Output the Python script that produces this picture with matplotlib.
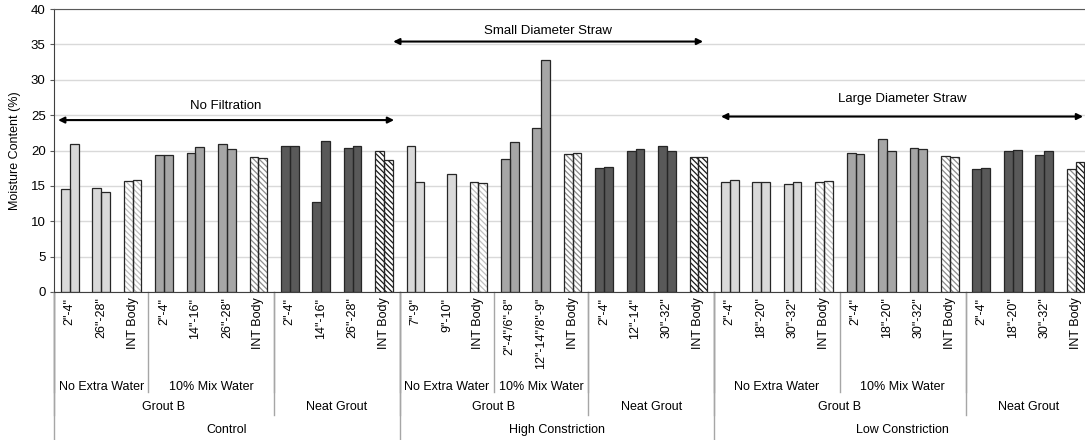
import numpy as np
import matplotlib.pyplot as plt

plt.rcParams['font.family'] = ['Liberation Sans', 'DejaVu Sans']
plt.rcParams['hatch.linewidth'] = 0.9

# sample location (one column per location, two readings each)
categories = ['2"-4"', '26"-28"', 'INT Body', '2"-4"', '14"-16"', '26"-28"', 'INT Body',
              '2"-4"', '14"-16"', '26"-28"', 'INT Body',
              '7"-9"', '9"-10"', 'INT Body', '2"-4"/6"-8"', '12"-14"/8"-9"', 'INT Body',
              '2"-4"', '12"-14"', '30"-32"', 'INT Body',
              '2"-4"', '18"-20"', '30"-32"', 'INT Body', '2"-4"', '18"-20"', '30"-32"', 'INT Body',
              '2"-4"', '18"-20"', '30"-32"', 'INT Body']
first_reading = [14.5, 14.7, 15.7, 19.3, 19.7, 20.85, 19.1, 20.7, 12.7, 20.4, 19.9,
                 20.7, np.nan, 15.5, 18.8, 23.2, 19.5, 17.5, 19.9, 20.7, 19.1,
                 15.6, 15.5, 15.3, 15.6, 19.6, 21.6, 20.4, 19.2, 17.45, 19.9, 19.4, 17.45]
second_reading = [20.9, 14.2, 15.9, 19.3, 20.5, 20.2, 18.9, 20.7, 21.4, 20.7, 18.7,
                  15.6, 16.7, 15.4, 21.2, 32.8, 19.7, 17.6, 20.2, 20.0, 19.05,
                  15.8, 15.6, 15.6, 15.7, 19.5, 19.9, 20.2, 19.15, 17.5, 20.1, 20.0, 18.4]

# (label, number of columns) for each level of the category axis
water_groups = [('No Extra Water', 3), ('10% Mix Water', 4), ('', 4),
                ('No Extra Water', 3), ('10% Mix Water', 3), ('', 4),
                ('No Extra Water', 4), ('10% Mix Water', 4), ('', 4)]
grout_groups = [('Grout B', 7), ('Neat Grout', 4), ('Grout B', 6), ('Neat Grout', 4),
                ('Grout B', 8), ('Neat Grout', 4)]
constriction_groups = [('Control', 11), ('High Constriction', 10), ('Low Constriction', 12)]

x = np.arange(len(categories))
w = 0.28

fill = {'No Extra Water': '#d9d9d9', '10% Mix Water': '#a6a6a6', '': '#595959'}
hatch_col = {'No Extra Water': '#bfbfbf', '10% Mix Water': '#8c8c8c', '': '#1a1a1a'}
water_of_cat = [lab for lab, n in water_groups for _ in range(n)]

fig = plt.figure(figsize=(10.85, 4.4), dpi=100)
ax = fig.add_axes([54 / 1085, 148 / 440, 1031 / 1085, 283 / 440])

for k, vals in enumerate([first_reading, second_reading]):
    pos = x - w / 2 if k == 0 else x + w / 2
    bars = ax.bar(pos, vals, w, color=[fill[g] for g in water_of_cat],
                  linewidth=0, zorder=2)
    for i, b in enumerate(bars):
        if categories[i] == 'INT Body':
            grp = water_of_cat[i]
            # odd one: left bar of last group drawn with the lighter hatch
            if i == len(categories) - 1 and k == 0:
                grp = '10% Mix Water'
            b.set_facecolor('white')
            b.set_hatch('\\' * 6)
            b.set_edgecolor(hatch_col[grp])
    ax.bar(pos, vals, w, fill=False, edgecolor='#262626', linewidth=0.9, zorder=3)

ax.set_xlim(-0.5, 32.3)
ax.set_ylim(0, 40)
ax.set_yticks(np.arange(0, 41, 5))
ax.grid(axis='y', color='#d9d9d9', linewidth=1)
ax.set_axisbelow(True)
ax.tick_params(axis='y', length=3, color='#595959', labelsize=9.5, pad=3)
ax.set_xticks(x)
ax.set_xticklabels(categories, rotation=90, fontsize=9)
ax.tick_params(axis='x', length=0, pad=4)
for s in ['left', 'bottom']:
    ax.spines[s].set_color('#404040')
ax.spines['top'].set_color('#595959')
ax.spines['right'].set_visible(False)

fig.text(15 / 1085, 289.5 / 440, 'Moisture Content (%)', rotation=90,
         ha='center', va='center', fontsize=9)

# multi-level category axis
trans = ax.get_xaxis_transform()
levels = [(water_groups, -0.336, -0.353), (grout_groups, -0.406, -0.435),
          (constriction_groups, -0.488, -0.523)]
for groups, ytxt, yline in levels:
    start = 0
    for lab, n in groups:
        if lab:
            ax.text(start + (n - 1) / 2, ytxt, lab, transform=trans,
                    ha='center', va='center', fontsize=9)
        ax.plot([start - 0.5, start - 0.5], [0, yline], transform=trans,
                color='#a6a6a6', lw=1, clip_on=False, zorder=1)
        start += n

# straw-type spans
spans = [('No Filtration', -0.37, 10.32, 24.3, 26.3),
         ('Small Diameter Straw', 10.29, 20.15, 35.4, 36.9),
         ('Large Diameter Straw', 20.72, 32.24, 24.8, 27.3)]
for lab, x0, x1, ya, yt in spans:
    ax.annotate('', xy=(x1, ya), xytext=(x0, ya),
                arrowprops=dict(arrowstyle='<|-|>', color='black', lw=1.5,
                                shrinkA=0, shrinkB=0, mutation_scale=9),
                annotation_clip=False, zorder=4)
    ax.text((x0 + x1) / 2, yt, lab, ha='center', va='center', fontsize=9.5)

fig.savefig('out.png', dpi=100)
